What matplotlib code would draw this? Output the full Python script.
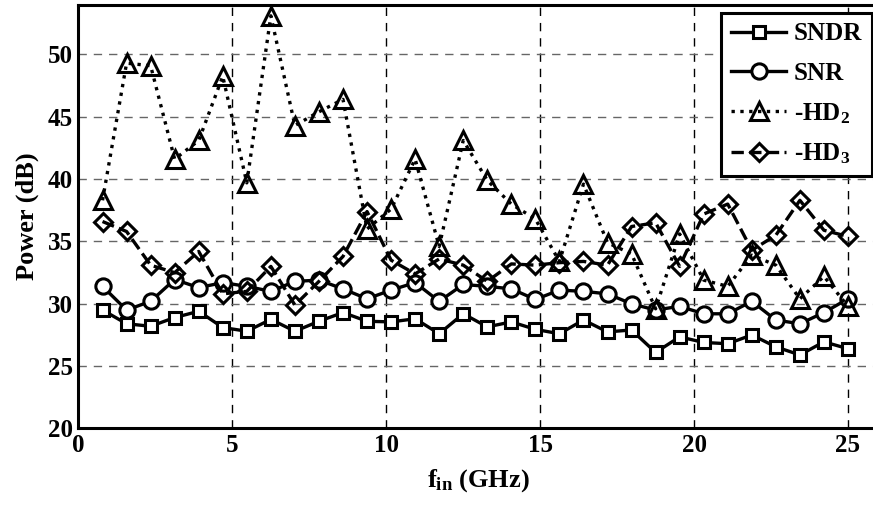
import numpy as np
import matplotlib
matplotlib.use("Agg")
import matplotlib.pyplot as plt

# input frequency points (GHz)
f_in = np.arange(1, 33) * 25.0 / 32

sndr = [29.5, 28.4, 28.2, 28.9, 29.4, 28.1, 27.8, 28.75, 27.8, 28.6, 29.3, 28.6,
        28.55, 28.8, 27.6, 29.2, 28.15, 28.55, 27.95, 27.6, 28.7, 27.75, 27.9, 26.1,
        27.35, 26.9, 26.8, 27.5, 26.55, 25.9, 26.95, 26.4]
snr = [31.4, 29.5, 30.2, 31.95, 31.3, 31.7, 31.4, 31.0, 31.8, 31.9, 31.2, 30.4,
       31.1, 31.7, 30.2, 31.55, 31.4, 31.2, 30.35, 31.1, 31.0, 30.8, 30.0, 29.5,
       29.8, 29.2, 29.2, 30.2, 28.7, 28.4, 29.3, 30.4]
hd2 = [38.3, 49.3, 49.1, 41.6, 43.1, 48.25, 39.7, 53.1, 44.3, 45.4, 46.4, 36.0,
       37.6, 41.6, 34.6, 43.1, 39.9, 38.0, 36.8, 33.4, 39.6, 34.9, 34.0, 29.6,
       35.6, 31.9, 31.4, 33.9, 33.1, 30.4, 32.2, 29.8]
hd3 = [36.6, 35.8, 33.1, 32.5, 34.2, 30.8, 31.0, 33.0, 29.9, 31.8, 33.8, 37.4,
       33.5, 32.4, 33.6, 33.1, 31.8, 33.2, 33.1, 33.3, 33.4, 33.1, 36.2, 36.5,
       33.0, 37.2, 38.0, 34.3, 35.5, 38.3, 35.9, 35.4]

plt.rcParams['font.family'] = ['Liberation Serif', 'DejaVu Serif']
plt.rcParams['font.weight'] = 'bold'
plt.rcParams['mathtext.fontset'] = 'custom'
plt.rcParams['mathtext.rm'] = 'Liberation Serif:bold'
plt.rcParams['mathtext.bf'] = 'Liberation Serif:bold'
plt.rcParams['mathtext.it'] = 'Liberation Serif:bold'

fig = plt.figure(figsize=(8.73, 5.08), dpi=100)
ax = fig.add_axes([0.0899, 0.1565, 0.9167, 0.8345])

lw = 2.4
ax.plot(f_in, sndr, '-', color='k', lw=lw, marker='s', ms=9, mew=2.2,
        mfc='white', mec='k', label='SNDR')
ax.plot(f_in, snr, '-', color='k', lw=lw, marker='o', ms=11, mew=2.2,
        mfc='white', mec='k', label='SNR')
ax.plot(f_in, hd2, ':', color='k', lw=lw, marker='^', ms=13, mew=2.2,
        mfc='none', mec='k', label=r'-HD$_\mathbf{2}$')
ax.plot(f_in, hd3, '--', color='k', lw=lw, marker='D', ms=9, mew=2.2,
        mfc='none', mec='k', label=r'-HD$_\mathbf{3}$')

ax.set_xlim(0, 26)
ax.set_ylim(20, 54)
ax.set_xticks([0, 5, 10, 15, 20, 25])
ax.set_yticks([20, 25, 30, 35, 40, 45, 50])
ax.tick_params(direction='in', labelsize=18, length=0, pad=4)
for lab in ax.get_xticklabels() + ax.get_yticklabels():
    lab.set_fontweight('bold')

ax.xaxis.grid(True, color='k', linestyle=(0, (6, 5)), lw=1.0)
ax.yaxis.grid(True, color='#666666', linestyle=(0, (6, 5)), lw=1.0)
for s in ax.spines.values():
    s.set_linewidth(2.2)

ax.set_xlabel(r'f$_\mathbf{in}$ (GHz)', fontsize=19, fontweight='bold', labelpad=7)
ax.set_ylabel('Power (dB)', fontsize=19, fontweight='bold', labelpad=6)

leg = ax.legend(loc='upper right', bbox_to_anchor=(872 / 873, 1 - 12.5 / 508),
                bbox_transform=fig.transFigure, fontsize=18, frameon=True,
                fancybox=False, edgecolor='k', framealpha=1, handlelength=2.2,
                handletextpad=0.3, borderpad=0.4, labelspacing=0.65,
                borderaxespad=0)
leg.get_frame().set_linewidth(2.2)

fig.savefig('out.png', dpi=100)
